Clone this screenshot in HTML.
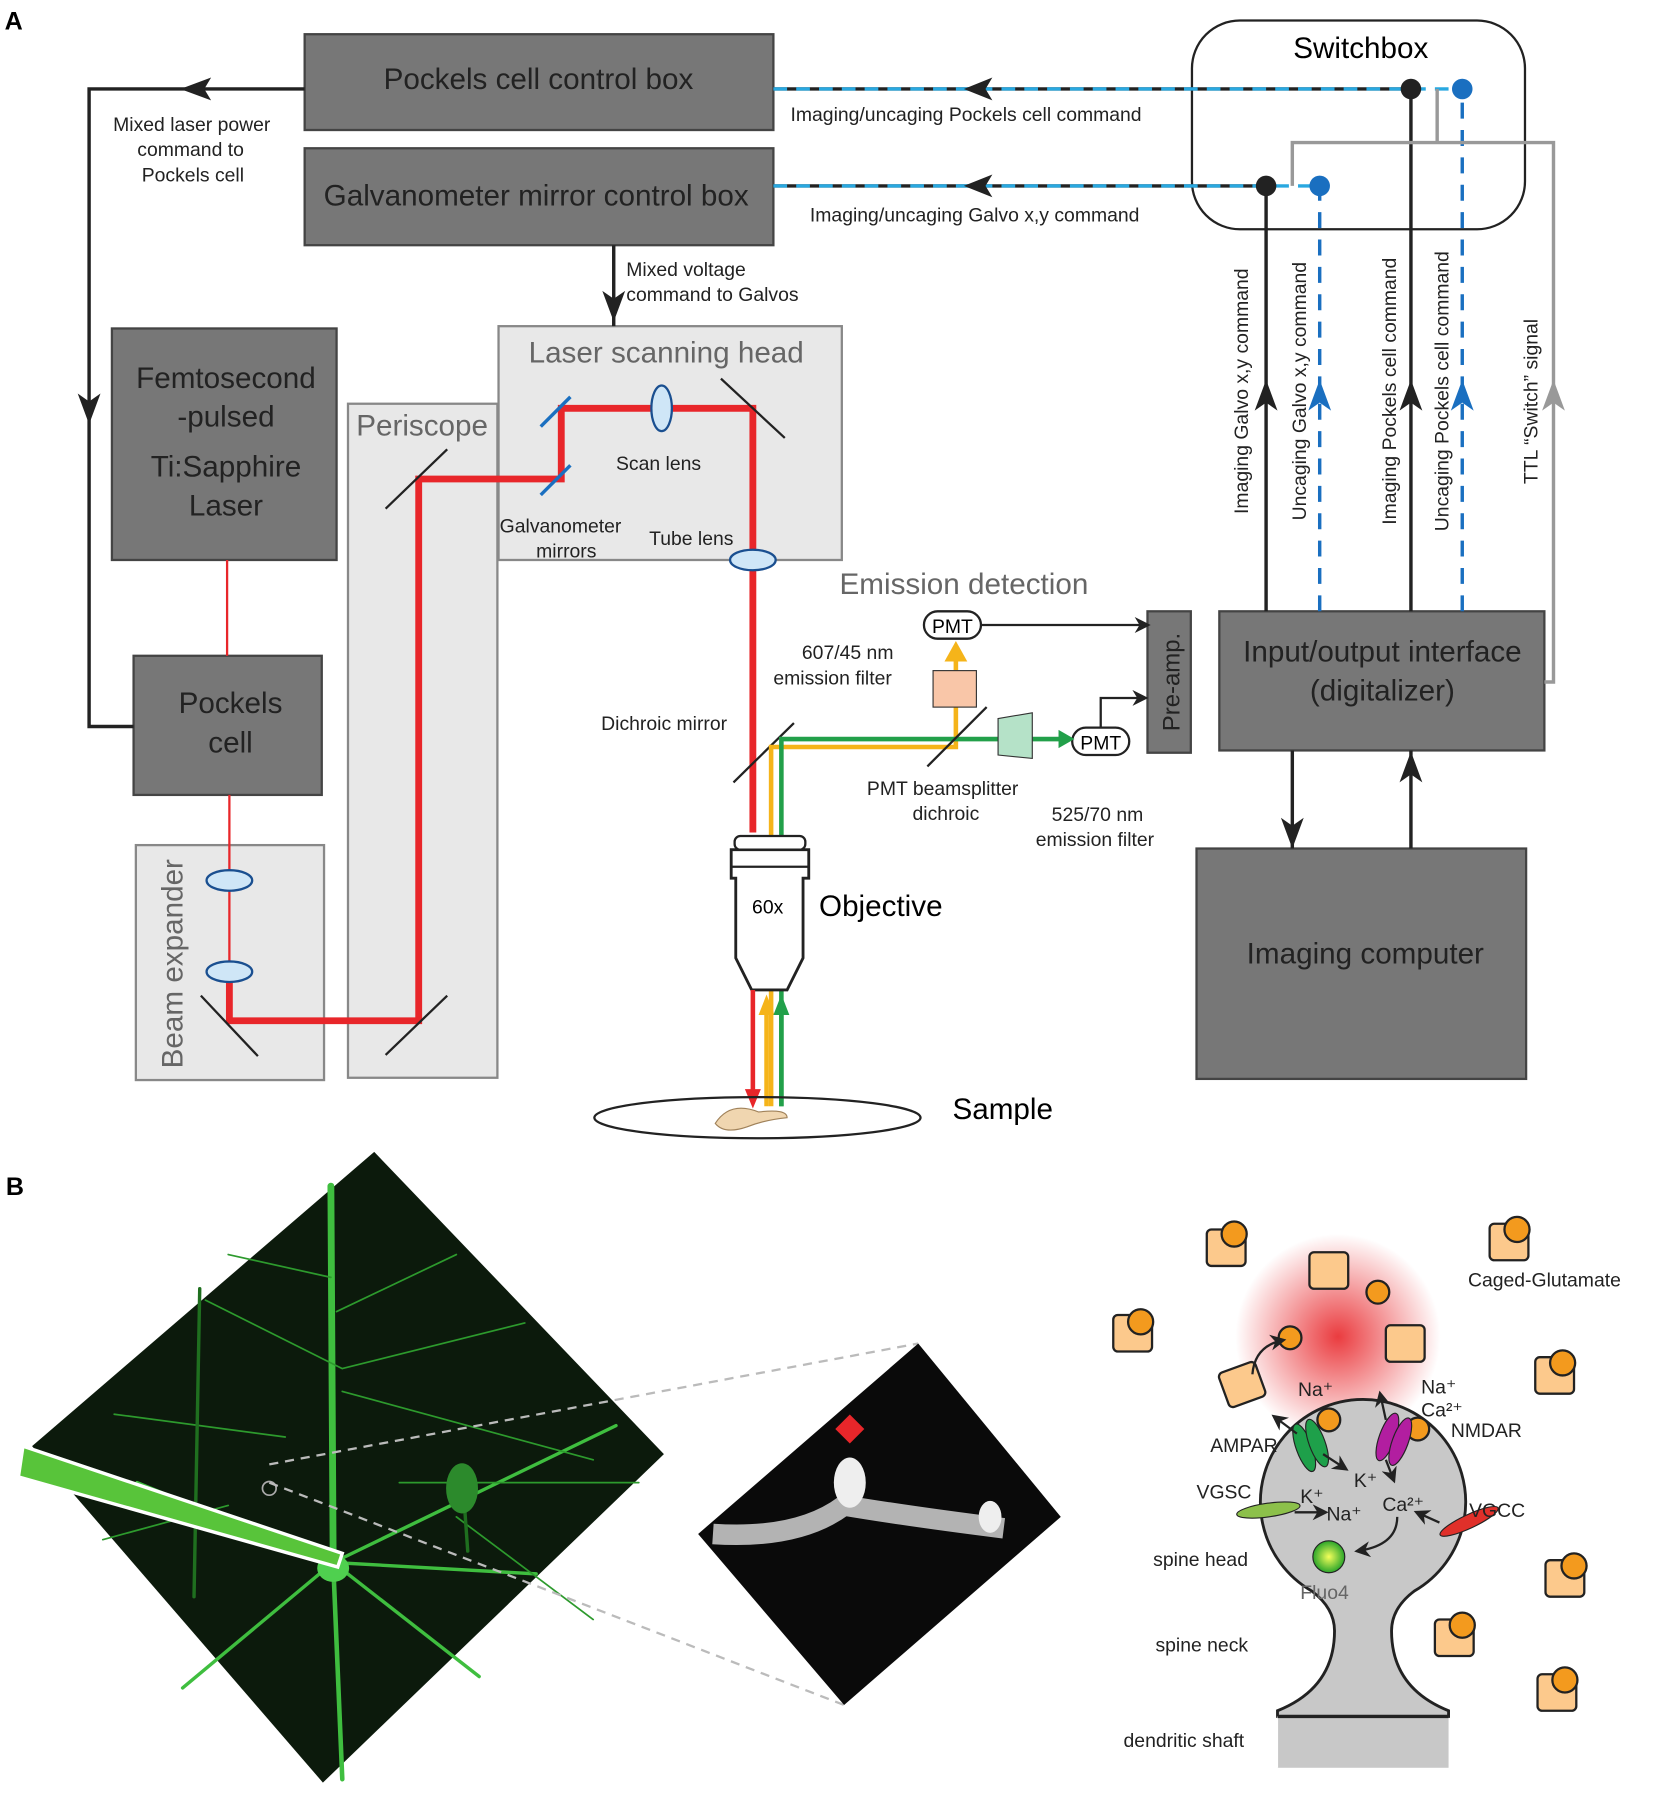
<!DOCTYPE html>
<html><head><meta charset="utf-8"><style>html,body{margin:0;padding:0;background:#fff}svg{display:block}text{font-family:"Liberation Sans",sans-serif}</style></head>
<body>
<svg width="1654" height="1794" viewBox="0 0 1450 1573" xmlns="http://www.w3.org/2000/svg">
<defs>
<marker id="ah" viewBox="0 0 10 10" refX="8" refY="5" markerWidth="7" markerHeight="7" orient="auto"><path d="M0,0 L10,5 L0,10 L3,5z" fill="#222"/></marker>
<marker id="ahb" viewBox="0 0 10 10" refX="8" refY="5" markerWidth="7" markerHeight="7" orient="auto"><path d="M0,0 L10,5 L0,10 L3,5z" fill="#1a6fc0"/></marker>
<radialGradient id="glow"><stop offset="0" stop-color="#e8262a"/><stop offset="1" stop-color="#e8262a" stop-opacity="0"/></radialGradient>
<radialGradient id="fl"><stop offset="0" stop-color="#f4ff5a"/><stop offset="1" stop-color="#2aa52a"/></radialGradient>
</defs>
<text x="4" y="26" font-size="22" font-weight="bold">A</text>
<text x="5" y="1048" font-size="22" font-weight="bold">B</text>

<!-- light boxes -->
<rect x="119" y="741" width="165" height="206" fill="#e8e8e8" stroke="#888" stroke-width="2"/>
<rect x="305" y="354" width="131" height="591" fill="#e8e8e8" stroke="#888" stroke-width="2"/>
<rect x="437" y="286" width="301" height="205" fill="#e8e8e8" stroke="#888" stroke-width="2"/>
<text x="584" y="318" font-size="26" fill="#666" text-anchor="middle">Laser scanning head</text>
<text x="370" y="382" font-size="26" fill="#666" text-anchor="middle">Periscope</text>
<text transform="translate(160,845) rotate(-90)" font-size="26" fill="#666" text-anchor="middle">Beam expander</text>

<!-- dark boxes -->
<g fill="#777" stroke="#444" stroke-width="2">
<rect x="267" y="30" width="411" height="84"/>
<rect x="267" y="130" width="411" height="85"/>
<rect x="98" y="288" width="197" height="203"/>
<rect x="117" y="575" width="165" height="122"/>
<rect x="1006" y="536" width="38" height="124"/>
<rect x="1069" y="536" width="285" height="122"/>
<rect x="1049" y="744" width="289" height="202"/>
</g>
<g font-size="26" fill="#222" text-anchor="middle">
<text x="472" y="78">Pockels cell control box</text>
<text x="470" y="180">Galvanometer mirror control box</text>
<text x="198" y="340">Femtosecond</text>
<text x="198" y="374">-pulsed</text>
<text x="198" y="418">Ti:Sapphire</text>
<text x="198" y="452">Laser</text>
<text x="202" y="625">Pockels</text>
<text x="202" y="660">cell</text>
<text x="1212" y="580">Input/output interface</text>
<text x="1212" y="614">(digitalizer)</text>
<text x="1197" y="845">Imaging computer</text>
<text transform="translate(1034,598) rotate(-90)" font-size="21" text-anchor="middle">Pre-amp.</text>
</g>

<!-- Switchbox -->
<rect x="1045" y="18" width="292" height="183" rx="42" fill="none" stroke="#222" stroke-width="2"/>
<text x="1193" y="51" font-size="26" text-anchor="middle">Switchbox</text>

<!-- dashed command lines -->
<g stroke-width="3">
<line x1="678" y1="78" x2="1237" y2="78" stroke="#222"/>
<line x1="678" y1="78" x2="1282" y2="78" stroke="#29a8e0" stroke-dasharray="12 8"/>
<line x1="678" y1="163" x2="1110" y2="163" stroke="#222"/>
<line x1="678" y1="163" x2="1157" y2="163" stroke="#29a8e0" stroke-dasharray="12 8"/>
</g>
<path d="M870,68 L845,78 L870,88 L864,78z" fill="#222"/>
<path d="M870,153 L845,163 L870,173 L864,163z" fill="#222"/>
<g font-size="17" fill="#222">
<text x="693" y="106">Imaging/uncaging Pockels cell command</text>
<text x="710" y="194">Imaging/uncaging Galvo x,y command</text>
</g>

<!-- verticals -->
<g stroke-width="3" fill="none">
<line x1="1110" y1="536" x2="1110" y2="163" stroke="#222"/>
<line x1="1237" y1="536" x2="1237" y2="78" stroke="#222"/>
<line x1="1157" y1="536" x2="1157" y2="163" stroke="#1a6fc0" stroke-dasharray="14 10"/>
<line x1="1282" y1="536" x2="1282" y2="78" stroke="#1a6fc0" stroke-dasharray="14 10"/>
<path d="M1354,598 H1362 V125 H1133 V163" stroke="#999"/>
<line x1="1260" y1="78" x2="1260" y2="125" stroke="#999"/>
</g>
<path d="M1100,360 L1110,333 L1120,360 L1110,353z" fill="#222"/>
<path d="M1227,360 L1237,333 L1247,360 L1237,353z" fill="#222"/>
<path d="M1147,360 L1157,333 L1167,360 L1157,353z" fill="#1a6fc0"/>
<path d="M1272,360 L1282,333 L1292,360 L1282,353z" fill="#1a6fc0"/>
<path d="M1352,360 L1362,333 L1372,360 L1362,353z" fill="#999"/>
<circle cx="1237" cy="78" r="9" fill="#222"/><circle cx="1282" cy="78" r="9" fill="#1a6fc0"/>
<circle cx="1110" cy="163" r="9" fill="#222"/><circle cx="1157" cy="163" r="9" fill="#1a6fc0"/>
<g font-size="17" fill="#222" text-anchor="middle">
<text transform="translate(1094,343) rotate(-90)">Imaging Galvo x,y command</text>
<text transform="translate(1145,343) rotate(-90)">Uncaging Galvo x,y command</text>
<text transform="translate(1224,343) rotate(-90)">Imaging Pockels cell command</text>
<text transform="translate(1270,343) rotate(-90)">Uncaging Pockels cell command</text>
<text transform="translate(1348,352) rotate(-90)">TTL “Switch” signal</text>
</g>

<!-- left loop -->
<g stroke="#222" stroke-width="3" fill="none">
<path d="M267,78 H78 V637 H117"/>
<line x1="538" y1="215" x2="538" y2="286"/>
<line x1="1133" y1="658" x2="1133" y2="744"/>
<line x1="1237" y1="744" x2="1237" y2="658"/>
</g>
<path d="M185,68 L158,78 L185,88 L179,78z" fill="#222"/>
<path d="M68,345 L78,372 L88,345 L78,352z" fill="#222"/>
<path d="M528,255 L538,282 L548,255 L538,262z" fill="#222"/>
<path d="M1123,717 L1133,744 L1143,717 L1133,724z" fill="#222"/>
<path d="M1227,686 L1237,659 L1247,686 L1237,679z" fill="#222"/>
<g font-size="17" fill="#222" text-anchor="middle">
<text x="168" y="115">Mixed laser power</text><text x="167" y="137">command to</text><text x="169" y="159">Pockels cell</text>
</g>
<g font-size="17" fill="#222">
<text x="549" y="242">Mixed voltage</text><text x="549" y="264">command to Galvos</text>
</g>

<!-- beam -->
<line x1="199" y1="491" x2="199" y2="575" stroke="#e8262a" stroke-width="2"/>
<line x1="201" y1="697" x2="201" y2="850" stroke="#e8262a" stroke-width="2"/>
<path d="M201,850 V895 H367 V420 H492 V358 H660 V730" fill="none" stroke="#e8262a" stroke-width="6"/>
<g stroke="#222" stroke-width="2">
<line x1="176" y1="873" x2="226" y2="926"/><line x1="338" y1="925" x2="392" y2="873"/>
<line x1="338" y1="446" x2="392" y2="394"/><line x1="632" y1="332" x2="688" y2="384"/>
<line x1="643" y1="686" x2="696" y2="634"/>
</g>
<g stroke="#1a6fc0" stroke-width="3"><line x1="474" y1="374" x2="500" y2="348"/><line x1="474" y1="434" x2="500" y2="408"/></g>
<g fill="#cfe6f7" stroke="#1a4f90" stroke-width="2">
<ellipse cx="201" cy="772" rx="20" ry="9"/><ellipse cx="201" cy="852" rx="20" ry="9"/>
<ellipse cx="580" cy="358" rx="9" ry="20"/><ellipse cx="660" cy="491" rx="20" ry="9"/>
</g>
<g font-size="17" fill="#222">
<text x="540" y="412">Scan lens</text><text x="569" y="478">Tube lens</text>
<text x="438" y="467">Galvanometer</text><text x="470" y="489">mirrors</text>
<text x="527" y="640">Dichroic mirror</text>
<text x="703" y="578">607/45 nm</text><text x="678" y="600">emission filter</text>
<text x="760" y="697">PMT beamsplitter</text><text x="800" y="719">dichroic</text>
<text x="922" y="720">525/70 nm</text><text x="908" y="742">emission filter</text>
</g>
<text x="736" y="521" font-size="26" fill="#666">Emission detection</text>

<!-- emission paths -->
<path d="M676,970 V655 H838 V575" fill="none" stroke="#f5b41a" stroke-width="4"/>
<path d="M685,970 V648 H930" fill="none" stroke="#22a04a" stroke-width="4"/>
<path d="M828,580 L838,562 L848,580z" fill="#f5b41a"/>
<rect x="818" y="588" width="38" height="32" fill="#f9c6a8" stroke="#333"/>
<path d="M875,630 L905,625 V665 L875,662z" fill="#b5e2c8" stroke="#333"/>
<line x1="813" y1="672" x2="865" y2="620" stroke="#222" stroke-width="2"/>
<rect x="810" y="536" width="50" height="24" rx="12" fill="#fff" stroke="#222" stroke-width="2"/>
<text x="835" y="555" font-size="17" text-anchor="middle">PMT</text>
<rect x="940" y="638" width="50" height="24" rx="12" fill="#fff" stroke="#222" stroke-width="2"/>
<text x="965" y="657" font-size="17" text-anchor="middle">PMT</text>
<path d="M928,640 L942,648 L928,656z" fill="#22a04a"/>
<path d="M860,548 H1006" stroke="#222" stroke-width="2" marker-end="url(#ah)"/>
<path d="M965,638 V612 H1004" fill="none" stroke="#222" stroke-width="2" marker-end="url(#ah)"/>

<!-- objective -->
<path d="M641,745 H709 V770 H704 V840 L690,868 H659 L645,840 V770 H641z" fill="#fff" stroke="#222" stroke-width="2.5"/>
<line x1="641" y1="760" x2="709" y2="760" stroke="#222" stroke-width="2"/>
<rect x="644" y="733" width="62" height="12" rx="5" fill="#fff" stroke="#222" stroke-width="2"/>
<text x="673" y="801" font-size="17" text-anchor="middle">60x</text>
<text x="718" y="803" font-size="26">Objective</text>
<line x1="660" y1="868" x2="660" y2="962" stroke="#e8262a" stroke-width="4"/>
<path d="M653,955 L660,972 L667,955z" fill="#e8262a"/>
<line x1="672" y1="880" x2="672" y2="970" stroke="#f5b41a" stroke-width="4"/>
<path d="M665,890 L672,872 L679,890z" fill="#f5b41a"/>
<line x1="685" y1="880" x2="685" y2="970" stroke="#22a04a" stroke-width="4"/>
<path d="M678,890 L685,872 L692,890z" fill="#22a04a"/>
<ellipse cx="664" cy="980" rx="143" ry="18" fill="none" stroke="#222" stroke-width="2"/>
<path d="M627,985 Q640,965 665,975 Q690,972 690,980 Q670,982 655,988 Q635,995 627,985z" fill="#f0d6b0" stroke="#a0825a"/>
<text x="835" y="981" font-size="26">Sample</text>

<!-- B: neuron image -->
<polygon points="328,1010 582,1275 283,1563 28,1268" fill="#0c1a0c"/>
<g stroke="#3fbe3f" fill="none" stroke-linecap="round">
<path d="M292,1370 L290,1040" stroke-width="6"/>
<path d="M292,1370 L300,1560" stroke-width="4"/>
<path d="M292,1370 L120,1300 M292,1370 L540,1250 M292,1370 L420,1470 M292,1370 L160,1480 M292,1370 L60,1290 M292,1370 L470,1380" stroke-width="3"/>
<path d="M300,1200 L180,1140 M300,1200 L460,1160 M300,1220 L520,1280 M290,1120 L200,1100 M295,1150 L400,1100 M250,1260 L100,1240 M350,1300 L560,1300 M200,1320 L90,1350 M400,1330 L520,1420" stroke-width="1.5" stroke="#2d9a2d"/>
<path d="M175,1130 L170,1400 M405,1290 L410,1360" stroke-width="3" stroke="#1f6f1f"/>
</g>
<ellipse cx="405" cy="1305" rx="14" ry="22" fill="#2c8a2c"/>
<ellipse cx="292" cy="1375" rx="14" ry="12" fill="#4fd04f"/>
<polygon points="16,1295 20,1268 300,1362 296,1374" fill="#58c43a" stroke="#fff" stroke-width="3"/>
<circle cx="236" cy="1305" r="6" fill="none" stroke="#aaa" stroke-width="1.5"/>
<g stroke="#bbb" stroke-width="2" stroke-dasharray="8 6">
<line x1="236" y1="1284" x2="805" y2="1178"/><line x1="236" y1="1300" x2="740" y2="1495"/>
</g>
<polygon points="805,1178 930,1330 740,1495 612,1345" fill="#0a0a0a"/>
<path d="M625,1345 Q700,1350 740,1320 Q800,1330 880,1340" stroke="#ddd" stroke-width="18" fill="none" opacity="0.8"/>
<ellipse cx="745" cy="1300" rx="14" ry="22" fill="#eee"/>
<ellipse cx="868" cy="1330" rx="10" ry="14" fill="#eee"/>
<rect x="736" y="1244" width="18" height="18" fill="#e8262a" transform="rotate(45 745 1253)"/>

<!-- spine diagram -->
<circle cx="1173" cy="1172" r="90" fill="url(#glow)" opacity="0.9"/>
<path d="M1120,1505 V1500 Q1170,1480 1170,1430 Q1170,1410 1150,1395 A90,90 0 1 1 1240,1395 Q1220,1410 1220,1430 Q1220,1480 1270,1500 V1505z" fill="#c8c8c8" stroke="#222" stroke-width="2.5"/>
<rect x="1120" y="1505" width="150" height="45" fill="#c8c8c8"/>
<line x1="1120" y1="1505" x2="1120" y2="1550" stroke="#fff"/><line x1="1120" y1="1505" x2="1270" y2="1505" stroke="#222" stroke-width="3"/>
<g fill="#fcc98c" stroke="#222" stroke-width="2">
<rect x="1058" y="1078" width="34" height="32" rx="4"/><rect x="976" y="1153" width="34" height="32" rx="4"/>
<rect x="1306" y="1073" width="34" height="32" rx="4"/><rect x="1346" y="1190" width="34" height="32" rx="4"/>
<rect x="1355" y="1368" width="34" height="32" rx="4"/><rect x="1258" y="1420" width="34" height="32" rx="4"/>
<rect x="1348" y="1468" width="34" height="32" rx="4"/><rect x="1148" y="1098" width="34" height="32" rx="4"/>
<rect x="1215" y="1162" width="34" height="32" rx="4"/><rect x="1072" y="1198" width="34" height="32" rx="4" transform="rotate(-20 1089 1214)"/>
</g>
<g fill="#f39a1e" stroke="#222" stroke-width="2">
<circle cx="1082" cy="1082" r="11"/><circle cx="1000" cy="1159" r="11"/><circle cx="1330" cy="1078" r="11"/>
<circle cx="1370" cy="1195" r="11"/><circle cx="1380" cy="1373" r="11"/><circle cx="1282" cy="1425" r="11"/>
<circle cx="1372" cy="1473" r="11"/><circle cx="1208" cy="1133" r="10"/><circle cx="1131" cy="1173" r="10"/>
<circle cx="1165" cy="1245" r="10"/><circle cx="1243" cy="1253" r="10"/>
</g>
<path d="M1098,1205 Q1100,1180 1125,1175" fill="none" stroke="#222" stroke-width="2" marker-end="url(#ah)"/>
<g transform="rotate(-20 1150 1267)"><ellipse cx="1143" cy="1267" rx="7" ry="22" fill="#1ea04a" stroke="#222"/><ellipse cx="1155" cy="1267" rx="7" ry="22" fill="#1ea04a" stroke="#222"/></g>
<g transform="rotate(20 1222 1262)"><ellipse cx="1216" cy="1262" rx="7" ry="22" fill="#b21ea0" stroke="#222"/><ellipse cx="1228" cy="1262" rx="7" ry="22" fill="#b21ea0" stroke="#222"/></g>
<ellipse cx="1112" cy="1324" rx="28" ry="6" fill="#8cc04a" stroke="#222" transform="rotate(-8 1112 1324)"/>
<ellipse cx="1288" cy="1334" rx="28" ry="6" fill="#e0302a" stroke="#222" transform="rotate(-25 1288 1334)"/>
<circle cx="1165" cy="1365" r="14" fill="url(#fl)" stroke="#222"/>
<g stroke="#222" stroke-width="2" fill="none">
<path d="M1137,1257 L1117,1242" marker-end="url(#ah)"/><path d="M1160,1275 L1180,1288" marker-end="url(#ah)"/>
<path d="M1215,1245 L1210,1222" marker-end="url(#ah)"/><path d="M1215,1280 L1222,1298" marker-end="url(#ah)"/>
<path d="M1135,1326 L1162,1326" marker-end="url(#ah)"/><path d="M1262,1335 L1242,1326" marker-end="url(#ah)"/>
<path d="M1225,1330 Q1225,1355 1190,1360" marker-end="url(#ah)"/>
</g>
<g font-size="17" fill="#222">
<text x="1287" y="1128">Caged-Glutamate</text>
<text x="1138" y="1224">Na⁺</text><text x="1246" y="1222">Na⁺</text><text x="1246" y="1242">Ca²⁺</text>
<text x="1272" y="1260">NMDAR</text><text x="1061" y="1273">AMPAR</text>
<text x="1049" y="1314">VGSC</text><text x="1288" y="1330">VGCC</text>
<text x="1140" y="1318">K⁺</text><text x="1187" y="1304">K⁺</text>
<text x="1163" y="1333">Na⁺</text><text x="1212" y="1325">Ca²⁺</text>
<text x="1011" y="1373">spine head</text><text x="1140" y="1402" fill="#666">Fluo4</text>
<text x="1013" y="1448">spine neck</text><text x="985" y="1532">dendritic shaft</text>
</g>
</svg>
</body></html>
